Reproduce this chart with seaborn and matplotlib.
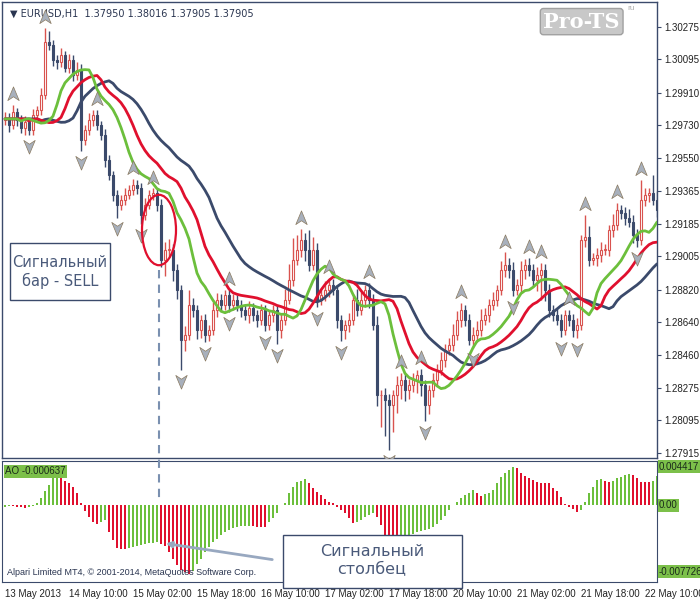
import numpy as np
import pandas as pd
import matplotlib
matplotlib.use("Agg")
import matplotlib.pyplot as plt
import seaborn as sns
from matplotlib.path import Path
from matplotlib.patches import Ellipse, Rectangle

# ------------ data (price in points, 1e-5) --------------
closes = [129771, 129732, 129804, 129760, 129715, 129749, 129704, 129787, 129815, 129898,
          130192, 130175, 130092, 130081, 130120, 130048, 130092, 130009, 130037, 129649,
          129704, 129760, 129787, 129732, 129677, 129538, 129455, 129344, 129289, 129317,
          129344, 129372, 129400, 129383, 129233, 129289, 129344, 129355, 129289, 128984,
          129040, 129040, 128929, 128818, 128541, 128569, 128735, 128707, 128596, 128652,
          128569, 128596, 128707, 128763, 128735, 128790, 128735, 128763, 128735, 128707,
          128679, 128718, 128679, 128652, 128707, 128624, 128679, 128707, 128596, 128652,
          128763, 128873, 128984, 129040, 129095, 129040, 128956, 129040, 128763, 128790,
          128818, 128846, 128818, 128652, 128596, 128624, 128652, 128763, 128707, 128763,
          128818, 128763, 128624, 128236, 128236, 128209, 128181, 128236, 128292, 128319,
          128264, 128292, 128319, 128347, 128292, 128181, 128264, 128319, 128375, 128430,
          128486, 128513, 128569, 128652, 128707, 128652, 128541, 128569, 128596, 128652,
          128679, 128735, 128763, 128818, 128929, 128956, 128929, 128818, 128846, 128929,
          128956, 128929, 128873, 128901, 128929, 128818, 128707, 128679, 128652, 128596,
          128679, 128652, 128596, 128624, 129095, 129112, 128984, 128995, 129012, 129040,
          129040, 129150, 129178, 129261, 129245, 129217, 129195, 129123, 129095, 129317,
          129344, 129355, 129317, 129261]
first_open = 129760
wick_up = [30, 25, 40, 20, 25, 30, 20, 35, 20, 40, 78, 60, 30, 25, 40, 20, 35, 25, 45, 30,
           30, 40, 25, 30, 20, 30, 25, 20, 30, 25, 40, 30, 35, 25, 30, 40, 30, 25, 20, 30,
           45, 60, 35, 30, 25, 50, 80, 40, 30, 25, 35, 30, 45, 40, 30, 25, 30, 35, 25, 30,
           30, 40, 25, 30, 35, 25, 30, 25, 30, 40, 60, 90, 120, 80, 60, 40, 110, 70, 40, 30,
           50, 40, 35, 30, 25, 30, 40, 35, 60, 45, 30, 40, 30, 50, 30, 40, 35, 30, 50, 40,
           35, 30, 40, 30, 35, 25, 30, 40, 35, 45, 30, 40, 60, 50, 40, 30, 35, 45, 50, 60,
           40, 35, 45, 30, 50, 70, 40, 45, 30, 50, 35, 40, 30, 45, 40, 30, 35, 30, 40, 35,
           30, 30, 35, 40, 30, 120, 60, 30, 40, 45, 35, 30, 60, 40, 30, 35, 50, 40, 30, 110,
           40, 30, 100, 50]
wick_dn = [30, 40, 25, 35, 30, 40, 30, 25, 20, 30, 20, 30, 35, 40, 30, 25, 30, 35, 30, 60,
           30, 25, 35, 30, 30, 40, 30, 35, 70, 30, 30, 25, 30, 35, 50, 30, 25, 30, 35, 40,
           90, 40, 60, 50, 166, 60, 30, 40, 50, 45, 40, 35, 30, 40, 35, 30, 40, 30, 35, 40,
           30, 45, 35, 40, 30, 35, 30, 40, 80, 45, 30, 25, 35, 30, 40, 60, 35, 30, 40, 30,
           35, 40, 30, 45, 60, 50, 40, 30, 35, 30, 40, 45, 30, 60, 180, 200, 250, 150, 100, 80,
           60, 50, 40, 70, 60, 90, 50, 40, 35, 30, 40, 30, 35, 30, 40, 35, 30, 45, 40, 35,
           30, 40, 30, 35, 30, 40, 45, 35, 30, 40, 50, 35, 40, 60, 140, 60, 40, 35, 30, 40,
           30, 35, 40, 45, 30, 40, 35, 30, 45, 40, 30, 35, 40, 30, 35, 40, 30, 45, 40, 30,
           35, 40, 30, 40]
# Awesome Oscillator, 1e-5 units
ao_points = [-19, -8, -12, -19, -23, -31, -19, -12, 19, 78, 167, 233, 322, 349, 310, 279, 252,
             213, 136, 19, -66, -136, -194, -221, -194, -175, -310, -407, -493, -508, -512,
             -497, -485, -469, -458, -446, -438, -435, -431, -446, -477, -543, -621, -698, -749,
             -780, -795, -757, -679, -621, -543, -485, -427, -388, -349, -310, -283, -264, -252,
             -244, -241, -237, -244, -248, -252, -256, -194, -155, -97, 2, 27, 136, 213, 268,
             283, 299, 252, 194, 155, 116, 66, 39, 19, -19, -58, -97, -144, -213, -194, -167,
             -136, -116, -89, -136, -233, -349, -388, -407, -415, -400, -376, -353, -330, -310,
             -299, -291, -272, -252, -221, -175, -128, -58, 2, 39, 78, 116, 144, 175, 136, 105,
             124, 144, 175, 252, 330, 369, 407, 438, 427, 376, 338, 310, 291, 272, 260, 256,
             252, 194, 167, 97, 12, -19, -50, -78, -58, 39, 136, 213, 291, 303, 283, 272, 283,
             310, 330, 349, 357, 345, 310, 272, 268, 264, 283, 338]
price_ticks = [1.30275, 1.30095, 1.29910, 1.29730, 1.29550, 1.29365, 1.29185,
               1.29005, 1.28820, 1.28640, 1.28460, 1.28275, 1.28095, 1.27915]
time_labels = ["13 May 2013", "14 May 10:00", "15 May 02:00", "15 May 18:00", "16 May 10:00",
               "17 May 02:00", "17 May 18:00", "20 May 10:00", "21 May 02:00", "21 May 18:00",
               "22 May 10:00"]

NAVY = "#3b4a6b"
RED = "#e0102e"
CANDLE_RED = "#d9534f"
GREEN = "#6cbf3c"
TXT = "#4a5a7a"

df = pd.DataFrame({"close": np.array(closes) / 1e5})
df["open"] = df["close"].shift(1).fillna(first_open / 1e5)
df["high"] = df[["open", "close"]].max(axis=1) + np.array(wick_up) / 1e5
df["low"] = df[["open", "close"]].min(axis=1) - np.array(wick_dn) / 1e5
df["bar"] = np.arange(len(df))
df["ao"] = np.array(ao_points) / 1e5
median = (df["high"] + df["low"]) / 2

# alligator-like lines
df["jaw"] = median.ewm(alpha=1 / 13).mean().shift(8).bfill()
df["teeth"] = median.ewm(alpha=1 / 8).mean().shift(5).bfill()
df["lips"] = median.ewm(alpha=1 / 5).mean().shift(3).bfill()
ao = df["ao"].values
ao_col = [GREEN if i == 0 or ao[i] >= ao[i - 1] else RED for i in range(len(ao))]

sns.set_style("white")
plt.rcParams['font.family'] = ['Liberation Sans', 'DejaVu Sans']
fig = plt.figure(figsize=(7, 6), dpi=100)
ax = fig.add_axes([2 / 700, 142 / 600, 655 / 700, 456 / 600])
ax2 = fig.add_axes([2 / 700, 18 / 600, 655 / 700, 121 / 600])
xl = (-0.75, 163)

# candles
for _, r in df.iterrows():
    bull = r["close"] >= r["open"]
    c = CANDLE_RED if bull else NAVY
    ax.vlines(r["bar"], r["low"], r["high"], color=c, lw=1, zorder=2)
    lo, hi = sorted([r["open"], r["close"]])
    ax.add_patch(Rectangle((r["bar"] - 0.35, lo), 0.7, max(hi - lo, 0.00002),
                           facecolor="white" if bull else NAVY, edgecolor=c, lw=0.8, zorder=3))

sns.lineplot(data=df, x="bar", y="jaw", color=NAVY, lw=2, ax=ax, zorder=4)
sns.lineplot(data=df, x="bar", y="teeth", color=RED, lw=2, ax=ax, zorder=4)
sns.lineplot(data=df, x="bar", y="lips", color=GREEN, lw=2, ax=ax, zorder=4)

# fractals
arrow = Path([(0, 1), (0.75, -0.8), (0, -0.3), (-0.75, -0.8), (0, 1)],
             [Path.MOVETO, Path.LINETO, Path.LINETO, Path.LINETO, Path.CLOSEPOLY])
arrow_dn = Path([(0, -1), (0.75, 0.8), (0, 0.3), (-0.75, 0.8), (0, -1)],
                [Path.MOVETO, Path.LINETO, Path.LINETO, Path.LINETO, Path.CLOSEPOLY])
h, l = df["high"].values, df["low"].values
for i in range(2, len(df) - 2):
    if h[i] == max(h[i - 2:i + 3]):
        ax.scatter(i, h[i] + 0.0006, marker=arrow, s=120, color="#a8b0bc", edgecolor="#8a7a60",
                   lw=0.5, zorder=5)
    if l[i] == min(l[i - 2:i + 3]):
        ax.scatter(i, l[i] - 0.0006, marker=arrow_dn, s=120, color="#a8b0bc", edgecolor="#8a7a60",
                   lw=0.5, zorder=5)

ax.set_xlim(*xl)
ax.set_ylim(1.27887, 1.30413)
ax.set_xlabel("")
ax.set_ylabel("")
ax.set_xticks([])
ax.yaxis.tick_right()
ax.set_yticks(price_ticks)
ax.set_yticklabels([f"{p:.5f}" for p in price_ticks], fontsize=7, color="#222222")
ax.tick_params(axis="y", length=3, pad=2, color=NAVY)
for s in ax.spines.values():
    s.set_color(NAVY)
    s.set_linewidth(1)

ax.text(0.012, 0.985, "▼ EURUSD,H1  1.37950 1.38016 1.37905 1.37905", transform=ax.transAxes,
        fontsize=7, color="#2a3550", va="top", family=["DejaVu Sans"])
ax.text(0.885, 0.957, "Pro-TS", transform=ax.transAxes, fontsize=15, fontweight="bold",
        color="white", ha="center", va="center", family="DejaVu Serif",
        bbox=dict(boxstyle="round,pad=0.15", fc="#c8c8c8", ec="#a0a0a0"))
ax.text(0.955, 0.985, "ru", transform=ax.transAxes, fontsize=6, color="#b0b0b0", va="center")

ax.add_patch(Ellipse((38.5, 1.2915), 8.5, 0.0039, fill=False, ec=RED, lw=1.6, zorder=6))

# annotation boxes (figure pixels)
fig.add_artist(Rectangle((10 / 700, 300 / 600), 100 / 700, 57 / 600, transform=fig.transFigure,
                         fc="white", ec=NAVY, lw=1, zorder=10))
fig.text(60 / 700, 328 / 600, "Сигнальный\nбар - SELL", fontsize=10.5, color=TXT, ha="center",
         va="center", linespacing=1.25, zorder=11, family=["DejaVu Sans"])

# AO panel
ax2.bar(df["bar"], df["ao"], width=0.72, color=ao_col, linewidth=0, zorder=2)
ax2.set_xlim(*xl)
ax2.set_ylim(-0.0089, 0.0051)
ax2.set_yticks([0.004417, 0.0, -0.007726])
ax2.set_yticklabels([])
ax2.yaxis.tick_right()
for v, t in [(0.004417, "0.004417"), (0.0, "0.00"), (-0.007726, "-0.007726")]:
    ax2.text(1.003, v, t, transform=ax2.get_yaxis_transform(), fontsize=7, color="#1a2a1a",
             va="center", bbox=dict(boxstyle="square,pad=0.15", fc="#7cc04a", ec="none"))
ax2.set_xticks(range(0, 161, 16))
ax2.set_xticklabels(time_labels, fontsize=7, color="#222222", ha="left")
ax2.tick_params(axis="x", length=3, pad=2, color=NAVY)
ax2.tick_params(axis="y", length=3, color=NAVY)
for s in ax2.spines.values():
    s.set_color(NAVY)
ax2.set_xlabel("")
ax2.text(0.005, 0.955, "AO -0.000637", transform=ax2.transAxes, fontsize=7, color="#1a2a1a",
         va="top", bbox=dict(boxstyle="square,pad=0.15", fc="#7cc04a", ec="none"))
ax2.text(0.007, 0.04, "Alpari Limited MT4, © 2001-2014, MetaQuotes Software Corp.",
         transform=ax2.transAxes, fontsize=6.5, color="#2a3550", va="bottom")

# dashed line from signal bar to the AO panel
fig.add_artist(plt.Line2D([159 / 700, 159 / 700], [330 / 600, 100 / 600], ls=(0, (4, 3)),
                          color="#7a90b0", lw=1.5))
ax2.annotate("", xy=(39.5, -0.0044), xycoords="data", xytext=(275 / 700, 40 / 600),
             textcoords="figure fraction",
             arrowprops=dict(arrowstyle="-|>", color="#98a8c0", lw=2, mutation_scale=8))
fig.add_artist(Rectangle((283 / 700, 12 / 600), 179 / 700, 53 / 600, transform=fig.transFigure,
                         fc="white", ec=NAVY, lw=1, zorder=10))
fig.text(372 / 700, 39 / 600, "Сигнальный\nстолбец", fontsize=11.5, color=TXT, ha="center",
         va="center", linespacing=1.25, zorder=11, family=["DejaVu Sans"])

fig.savefig("out.png", dpi=100)
